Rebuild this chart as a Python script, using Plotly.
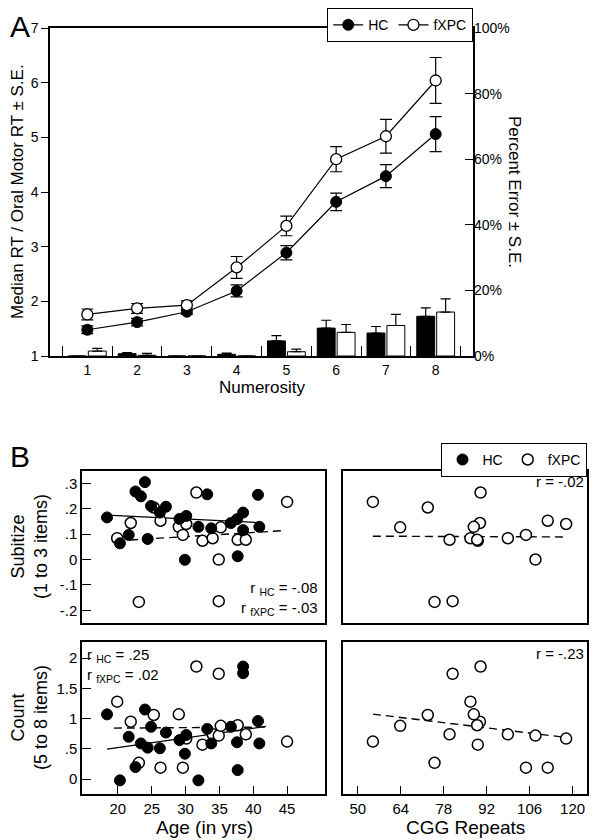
import plotly.graph_objects as go

# ---- panel A data ----
numerosity = [1, 2, 3, 4, 5, 6, 7, 8]
hc_rt = [1.48, 1.62, 1.81, 2.19, 2.89, 3.82, 4.29, 5.06]
hc_rt_se = [0.07, 0.07, 0.05, 0.11, 0.13, 0.16, 0.21, 0.32]
fx_rt = [1.76, 1.87, 1.93, 2.62, 3.38, 4.60, 5.02, 6.04]
fx_rt_se = [0.10, 0.09, 0.08, 0.20, 0.18, 0.23, 0.31, 0.42]
hc_pct_err = [0, 0.7, 0, 0.5, 4.6, 8.5, 7.0, 12.1]
hc_pct_err_se = [0, 0.3, 0, 0.4, 1.6, 2.4, 2.0, 2.6]
fx_pct_err = [1.5, 0.2, 0, 0, 1.3, 7.2, 9.3, 13.4]
fx_pct_err_se = [0.8, 0.6, 0, 0, 0.8, 2.4, 3.4, 4.0]
bin_edges = [0.5, 1.5, 2.5, 3.5, 4.5, 5.5, 6.5, 7.5, 8.5]
pct_ticks = [0, 20, 40, 60, 80, 100]
pct_ticktext = ["0%", "20%", "40%", "60%", "80%", "100%"]

# ---- panel B data ----
hc_age = [18.4, 20.3, 21.6, 22.6, 23.4, 24.0, 24.4, 24.9, 26.2, 27.1, 29.1, 29.9,
          30.1, 31.9, 33.2, 33.8, 36.7, 37.6, 37.7, 38.5, 38.5, 40.7, 40.9]
hc_subitize = [0.166, 0.064, 0.097, 0.268, 0.249, 0.305, 0.081, 0.211, 0.185, 0.208, 0.160, -0.001,
               0.172, 0.129, 0.257, 0.123, 0.144, 0.159, 0.013, 0.185, 0.116, 0.255, 0.129]
hc_count = [1.07, -0.02, 0.70, 0.20, 0.59, 1.15, 0.52, 0.865, 0.51, 0.77, 0.645, 0.42,
            0.73, -0.02, 0.83, 0.59, 0.865, 0.61, 0.15, 1.86, 1.75, 0.96, 0.59]

fx_age = [19.9, 21.9, 23.1, 25.3, 26.3, 29.0, 29.6, 30.1, 31.6, 32.5, 34.0, 34.9, 34.9,
          35.2, 37.7, 38.9, 45.0]
fx_cgg = [86.7, 89.8, 75.0, 72.8, 111.9, 87.8, 104.8, 117.9, 90.0, 89.1, 98.9, 107.9, 80.9,
          63.8, 88.9, 79.9, 54.9]
fx_subitize = [0.084, 0.144, -0.167, 0.205, 0.153, 0.129, 0.097, 0.140, 0.264, 0.074, 0.084, 0.0,
               -0.164, 0.127, 0.078, 0.078, 0.227]
fx_count = [1.28, 0.95, 0.27, 1.06, 0.19, 1.07, 0.19, 0.67, 1.86, 0.57, 0.74, 0.72, 1.74,
            0.88, 0.89, 0.74, 0.62]

# regression line end points
hc_sub_fit_x, hc_sub_fit_y = [18.4, 40.7], [0.175, 0.146]
fx_sub_fit_x, fx_sub_fit_y = [19.9, 44.6], [0.074, 0.114]
hc_cnt_fit_x, hc_cnt_fit_y = [18.4, 41.9], [0.496, 0.87]
fx_cnt_fit_x, fx_cnt_fit_y = [19.4, 41.9], [0.843, 0.86]
cgg_sub_fit_x, cgg_sub_fit_y = [54.9, 117.9], [0.092, 0.089]
cgg_cnt_fit_x, cgg_cnt_fit_y = [54.9, 117.9], [1.074, 0.689]

sub_ticks = [-0.2, -0.1, 0, 0.1, 0.2, 0.3]
sub_ticktext = ["-.2", "-.1", "0", ".1", ".2", ".3"]
cnt_ticks = [0, 0.5, 1, 1.5, 2]
cnt_ticktext = ["0", ".5", "1", "1.5", "2"]
age_ticks = [20, 25, 30, 35, 40, 45]
cgg_ticks = [50, 64, 78, 92, 106, 120]

# the page body has an 8px margin, so the figure is drawn 8px smaller and
# all positions below are given in window pixels, shifted back by 8
PAD = 8
W, H = 600 - PAD, 840 - PAD
FONT = "Liberation Sans, Arial, sans-serif"


def px(x):
    return (x - PAD) / W


def py(y):
    return 1 - (y - PAD) / H


fig = go.Figure()

# error-rate bars (right axis)
fig.add_trace(go.Bar(
    x=numerosity, y=hc_pct_err, xaxis="x7", yaxis="y2",
    width=0.36, offset=-0.38,
    marker=dict(color="black", line=dict(color="black", width=1)),
    error_y=dict(type="data", array=hc_pct_err_se, arrayminus=[0] * 8, symmetric=False,
                 color="black", thickness=1.2, width=5),
    showlegend=False, hoverinfo="skip"
))
fig.add_trace(go.Bar(
    x=numerosity, y=fx_pct_err, xaxis="x7", yaxis="y2",
    width=0.36, offset=0.02,
    marker=dict(color="white", line=dict(color="black", width=1)),
    error_y=dict(type="data", array=fx_pct_err_se, arrayminus=[0] * 8, symmetric=False,
                 color="black", thickness=1.2, width=5),
    showlegend=False, hoverinfo="skip"
))

# RT lines
fig.add_trace(go.Scatter(
    x=numerosity, y=hc_rt, mode="lines+markers", name="HC", legend="legend",
    line=dict(color="black", width=1.2),
    marker=dict(color="black", size=11, line=dict(color="black", width=1)),
    error_y=dict(type="data", array=hc_rt_se, color="black", thickness=1.2, width=6)
))
fig.add_trace(go.Scatter(
    x=numerosity, y=fx_rt, mode="lines+markers", name="fXPC", legend="legend",
    line=dict(color="black", width=1.2),
    marker=dict(color="white", size=11, line=dict(color="black", width=1.3)),
    error_y=dict(type="data", array=fx_rt_se, color="black", thickness=1.2, width=6)
))

# panel B scatters
open_marker = dict(color="white", size=11, line=dict(color="black", width=1.5))
filled_marker = dict(color="black", size=11, line=dict(color="black", width=1))
dash_line = dict(color="black", width=1.4, dash="8px,5px")
solid_line = dict(color="black", width=1.3)

# age / subitize (x3, y3)
fig.add_trace(go.Scatter(x=fx_sub_fit_x, y=fx_sub_fit_y, xaxis="x3", yaxis="y3", mode="lines",
                         line=dash_line, showlegend=False))
fig.add_trace(go.Scatter(x=hc_sub_fit_x, y=hc_sub_fit_y, xaxis="x3", yaxis="y3", mode="lines",
                         line=solid_line, showlegend=False))
fig.add_trace(go.Scatter(x=fx_age, y=fx_subitize, xaxis="x3", yaxis="y3", mode="markers",
                         marker=open_marker, showlegend=False))
fig.add_trace(go.Scatter(x=hc_age, y=hc_subitize, xaxis="x3", yaxis="y3", mode="markers",
                         marker=filled_marker, name="HC", legend="legend2"))
fig.add_trace(go.Scatter(x=[None], y=[None], xaxis="x3", yaxis="y3", mode="markers",
                         marker=open_marker, name="fXPC", legend="legend2"))

# cgg / subitize (x4, y4)
fig.add_trace(go.Scatter(x=cgg_sub_fit_x, y=cgg_sub_fit_y, xaxis="x4", yaxis="y4", mode="lines",
                         line=dash_line, showlegend=False))
fig.add_trace(go.Scatter(x=fx_cgg, y=fx_subitize, xaxis="x4", yaxis="y4", mode="markers",
                         marker=open_marker, showlegend=False))

# age / count (x5, y5)
fig.add_trace(go.Scatter(x=fx_cnt_fit_x, y=fx_cnt_fit_y, xaxis="x5", yaxis="y5", mode="lines",
                         line=dash_line, showlegend=False))
fig.add_trace(go.Scatter(x=hc_cnt_fit_x, y=hc_cnt_fit_y, xaxis="x5", yaxis="y5", mode="lines",
                         line=solid_line, showlegend=False))
fig.add_trace(go.Scatter(x=fx_age, y=fx_count, xaxis="x5", yaxis="y5", mode="markers",
                         marker=open_marker, showlegend=False))
fig.add_trace(go.Scatter(x=hc_age, y=hc_count, xaxis="x5", yaxis="y5", mode="markers",
                         marker=filled_marker, showlegend=False))

# cgg / count (x6, y6)
fig.add_trace(go.Scatter(x=cgg_cnt_fit_x, y=cgg_cnt_fit_y, xaxis="x6", yaxis="y6", mode="lines",
                         line=dash_line, showlegend=False))
fig.add_trace(go.Scatter(x=fx_cgg, y=fx_count, xaxis="x6", yaxis="y6", mode="markers",
                         marker=open_marker, showlegend=False))

box = dict(showline=True, linecolor="black", linewidth=1.5, mirror=True,
           showgrid=False, zeroline=False, tickcolor="black", tickwidth=1.3)

A_X = [px(50), px(473)]
A_Y = [py(356), py(28)]
L_X = [px(82), px(325)]
R_X = [px(342.5), px(587.3)]
T_Y = [py(623), py(470.7)]
B_Y = [py(794.3), py(642.3)]

fig.update_layout(
    width=W, height=H,
    margin=dict(l=0, r=0, t=0, b=0, autoexpand=False),
    paper_bgcolor="white", plot_bgcolor="rgba(0,0,0,0)",
    font=dict(family=FONT, size=13, color="black"),
    barmode="overlay",
    # panel A
    xaxis=dict(domain=A_X, anchor="y", range=[0.25, 8.75], tickvals=numerosity, ticks="",
               ticklen=0, tickfont=dict(size=14), **box),
    xaxis7=dict(overlaying="x", anchor="y", range=[0.25, 8.75], tickvals=bin_edges,
                ticks="inside", ticklen=10, tickcolor="black", tickwidth=1.3,
                showticklabels=False, showgrid=False, zeroline=False, showline=False),
    yaxis=dict(domain=A_Y, anchor="x", range=[1, 7], tickvals=[1, 2, 3, 4, 5, 6, 7],
               ticks="outside", ticklen=7, tickfont=dict(size=14), **box),
    yaxis2=dict(overlaying="y", anchor="x", side="right", range=[0, 100], tickvals=pct_ticks,
                ticktext=pct_ticktext, ticks="inside", ticklen=8, tickcolor="black", tickwidth=1.3,
                showgrid=False, zeroline=False, showline=False, tickfont=dict(size=14)),
    # panel B
    xaxis3=dict(domain=L_X, anchor="y3", range=[14.7, 50.6], tickvals=age_ticks,
                showticklabels=False, ticks="", **box),
    yaxis3=dict(domain=T_Y, anchor="x3", range=[-0.25, 0.35], tickvals=sub_ticks,
                ticktext=sub_ticktext, ticks="inside", ticklen=9, tickfont=dict(size=15), **box),
    xaxis4=dict(domain=R_X, anchor="y4", range=[45, 124.8], showticklabels=False, ticks="", **box),
    yaxis4=dict(domain=T_Y, anchor="x4", range=[-0.25, 0.35], showticklabels=False, ticks="", **box),
    xaxis5=dict(domain=L_X, anchor="y5", range=[14.7, 50.6], tickvals=age_ticks,
                ticks="inside", ticklen=9, tickfont=dict(size=15), **box),
    yaxis5=dict(domain=B_Y, anchor="x5", range=[-0.25, 2.26], tickvals=cnt_ticks,
                ticktext=cnt_ticktext, ticks="inside", ticklen=9, tickfont=dict(size=15), **box),
    xaxis6=dict(domain=R_X, anchor="y6", range=[45, 124.8], tickvals=cgg_ticks,
                ticks="inside", ticklen=9, tickfont=dict(size=15), **box),
    yaxis6=dict(domain=B_Y, anchor="x6", range=[-0.25, 2.26], showticklabels=False, ticks="", **box),
    legend=dict(orientation="h", x=px(473), xanchor="right", y=1.0, yanchor="top",
                bordercolor="black", borderwidth=1.2, bgcolor="white",
                font=dict(size=14), itemwidth=30, tracegroupgap=0),
    legend2=dict(orientation="h", x=px(587.3), xanchor="right", y=py(442.7), yanchor="top",
                 bordercolor="black", borderwidth=1.2, bgcolor="white",
                 font=dict(size=14), itemwidth=30),
    showlegend=True,
)

ann = []
ann.append(dict(text="A", x=px(8), y=py(8), xanchor="left", yanchor="top", font=dict(size=30)))
ann.append(dict(text="B", x=px(8), y=py(438), xanchor="left", yanchor="top", font=dict(size=30)))
ann.append(dict(text="Median RT / Oral Motor RT \u00b1 S.E.", x=px(17), y=py(192), textangle=-90,
                font=dict(size=17)))
ann.append(dict(text="Percent Error \u00b1 S.E.", x=px(515), y=py(192), textangle=90,
                font=dict(size=17)))
ann.append(dict(text="Numerosity", x=px(261.5), y=py(388), font=dict(size=17)))
ann.append(dict(text="Subitize<br>(1 to 3 items)", x=px(29), y=py(547), textangle=-90,
                font=dict(size=18)))
ann.append(dict(text="Count<br>(5 to 8 items)", x=px(29), y=py(718), textangle=-90,
                font=dict(size=18)))
ann.append(dict(text="Age (in yrs)", x=px(204), y=py(827), font=dict(size=19)))
ann.append(dict(text="CGG Repeats", x=px(465), y=py(827), font=dict(size=19)))
ann.append(dict(text="r <sub>HC</sub> = -.08<br>r <sub>fXPC</sub> = -.03", x=px(320), y=py(620),
                xanchor="right", yanchor="bottom", align="right", font=dict(size=15)))
ann.append(dict(text="r <sub>HC</sub> = .25<br>r <sub>fXPC</sub> = .02", x=px(85), y=py(644),
                xanchor="left", yanchor="top", align="left", font=dict(size=15)))
ann.append(dict(text="r = -.02", x=px(586), y=py(471), xanchor="right", yanchor="top",
                font=dict(size=15)))
ann.append(dict(text="r = -.23", x=px(586), y=py(643), xanchor="right", yanchor="top",
                font=dict(size=15)))
for a in ann:
    a.update(xref="paper", yref="paper", showarrow=False)
    a.setdefault("xanchor", "center")
    a.setdefault("yanchor", "middle")
fig.update_layout(annotations=ann)

fig.write_html("out.html")
